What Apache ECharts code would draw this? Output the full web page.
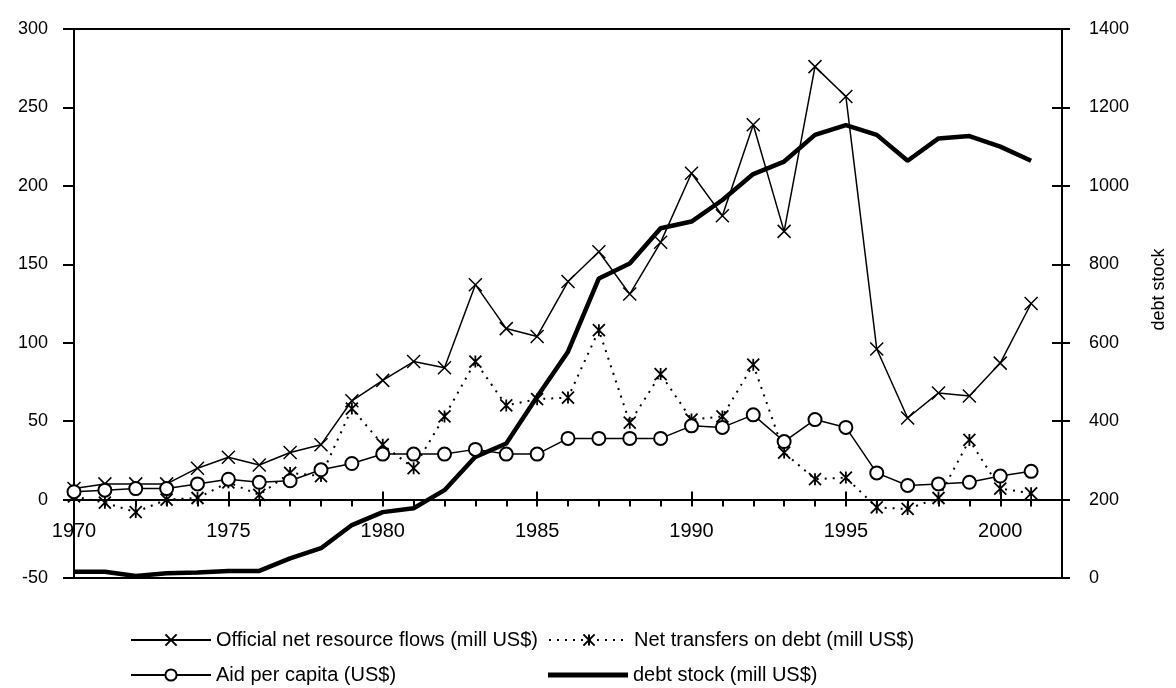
<!DOCTYPE html>
<html>
<head>
<meta charset="utf-8">
<script src="https://cdn.jsdelivr.net/npm/echarts@6/dist/echarts.min.js"></script>
<style>
html,body{margin:0;padding:0;background:#fff;}
#chart{width:1176px;height:688px;}
</style>
</head>
<body>
<div id="chart"></div>
<script>
const years = [1970,1971,1972,1973,1974,1975,1976,1977,1978,1979,1980,1981,1982,1983,1984,1985,1986,1987,1988,1989,1990,1991,1992,1993,1994,1995,1996,1997,1998,1999,2000,2001];
const officialFlows = [7,10,10,10,20,27,22,30,35,63,76,88,84,137,109,104,139,158,131,164,208,181,239,171,276,257,96,52,68,66,87,125];
const netTransfers = [2,-2,-8,0,1,11,3,17,15,58,35,20,53,88,60,64,65,108,49,80,51,53,86,30,13,14,-5,-6,1,38,7,4];
const aidPerCapita = [5,6,7,7,10,13,11,12,19,23,29,29,29,32,29,29,39,39,39,39,47,46,54,37,51,46,17,9,10,11,15,18];
const debtStock = [16,16,5,12,14,18,18,50,76,135,168,178,224,309,343,462,577,764,802,892,909,964,1030,1062,1130,1155,1130,1064,1121,1127,1100,1064];
const seriesNames = ['Official net resource flows (mill US$)','Net transfers on debt (mill US$)','Aid per capita (US$)','debt stock (mill US$)'];

const FONT = '"Liberation Sans", Arial, sans-serif';
const pairs = arr => years.map((y, i) => [y, arr[i]]);
const X_SYM = 'path://M0,0L10,10M10,0L0,10';
const STAR_SYM = 'path://M0,0L10,10M10,0L0,10M5,0L5,10';

const GRID_TOP = 29, GRID_BOTTOM = 110, H = 688;
const Y_MIN = -50, Y_MAX = 300;
// offset moving the year axis from the grid bottom up to the zero line of the left axis
const plotH = H - GRID_TOP - GRID_BOTTOM;
const zeroOffset = -plotH * (0 - Y_MIN) / (Y_MAX - Y_MIN);

const chart = echarts.init(document.getElementById('chart'), null, {renderer: 'canvas'});
const legendBase = {
  orient: 'horizontal', itemWidth: 80, itemHeight: 14, itemGap: 0, padding: 0,
  textStyle: {fontFamily: FONT, fontSize: 20, color: '#000'},
  selectedMode: false
};
chart.setOption({
  animation: false,
  backgroundColor: '#fff',
  grid: {left: 74, right: 107, top: GRID_TOP, bottom: GRID_BOTTOM, show: true, borderColor: '#000', borderWidth: 2, backgroundColor: 'transparent'},
  legend: [
    Object.assign({}, legendBase, {data: [seriesNames[0]], left: 130, top: 630}),
    Object.assign({}, legendBase, {data: [seriesNames[1]], left: 548, top: 630}),
    Object.assign({}, legendBase, {data: [seriesNames[2]], left: 130, top: 665}),
    Object.assign({}, legendBase, {data: [{name: seriesNames[3], icon: 'rect'}], left: 548, top: 665, itemHeight: 5})
  ],
  xAxis: [
    {
      type: 'value', min: 1970, max: 2002, interval: 1, position: 'bottom', offset: zeroOffset,
      axisLine: {show: true, onZero: false, lineStyle: {color: '#000', width: 2}},
      axisTick: {show: true, inside: false, length: 7, lineStyle: {color: '#000', width: 2}},
      axisLabel: {margin: 22, fontFamily: FONT, fontSize: 20, color: '#000', showMaxLabel: false,
        formatter: v => (v % 5 === 0 ? String(v) : '')},
      splitLine: {show: false}
    },
    {
      type: 'value', min: 1970, max: 2002, interval: 5, position: 'bottom', offset: zeroOffset,
      axisLine: {show: false, onZero: false},
      axisTick: {show: true, inside: true, length: 8, lineStyle: {color: '#000', width: 2}},
      axisLabel: {show: false},
      splitLine: {show: false}
    }
  ],
  yAxis: [
    {
      type: 'value', min: Y_MIN, max: Y_MAX, interval: 50, position: 'left',
      axisLine: {show: true, onZero: false, lineStyle: {color: '#000', width: 2}},
      axisTick: {show: true, inside: false, length: 11, lineStyle: {color: '#000', width: 2}},
      axisLabel: {margin: 26, fontFamily: FONT, fontSize: 18, color: '#000', formatter: v => String(v)},
      splitLine: {show: false}
    },
    {
      type: 'value', min: 0, max: 1400, interval: 200, position: 'right',
      name: 'debt stock', nameLocation: 'middle', nameGap: 88, nameRotate: 90,
      nameTextStyle: {fontFamily: FONT, fontSize: 18, color: '#000', padding: [0, 0, 0, 28]},
      axisLine: {show: true, onZero: false, lineStyle: {color: '#000', width: 2}},
      axisTick: {show: true, inside: false, length: 8, lineStyle: {color: '#000', width: 2}},
      axisLabel: {margin: 27, fontFamily: FONT, fontSize: 18, color: '#000', formatter: v => String(v)},
      splitLine: {show: false}
    },
    {
      type: 'value', min: 0, max: 1400, interval: 200, position: 'right',
      axisLine: {show: false, onZero: false},
      axisTick: {show: true, inside: true, length: 10, lineStyle: {color: '#000', width: 2}},
      axisLabel: {show: false},
      splitLine: {show: false}
    }
  ],
  series: [
    {
      name: seriesNames[3], type: 'line', xAxisIndex: 0, yAxisIndex: 1, data: pairs(debtStock),
      showSymbol: false, symbol: 'none',
      lineStyle: {color: '#000', width: 4.5}, itemStyle: {color: '#000'}, z: 2
    },
    {
      name: seriesNames[0], type: 'line', xAxisIndex: 0, yAxisIndex: 0, data: pairs(officialFlows),
      symbol: X_SYM, symbolSize: 13,
      lineStyle: {color: '#000', width: 1.5},
      itemStyle: {color: '#000', borderColor: '#000', borderWidth: 1.5}, z: 3
    },
    {
      name: seriesNames[1], type: 'line', xAxisIndex: 0, yAxisIndex: 0, data: pairs(netTransfers),
      symbol: STAR_SYM, symbolSize: 12,
      lineStyle: {color: '#000', width: 2, type: [2, 6]},
      itemStyle: {color: '#000', borderColor: '#000', borderWidth: 1.8}, z: 3
    },
    {
      name: seriesNames[2], type: 'line', xAxisIndex: 0, yAxisIndex: 0, data: pairs(aidPerCapita),
      symbol: 'emptyCircle', symbolSize: 13,
      lineStyle: {color: '#000', width: 1.5},
      itemStyle: {color: '#000', borderColor: '#000', borderWidth: 1.5}, z: 4
    }
  ]
});
</script>
</body>
</html>
